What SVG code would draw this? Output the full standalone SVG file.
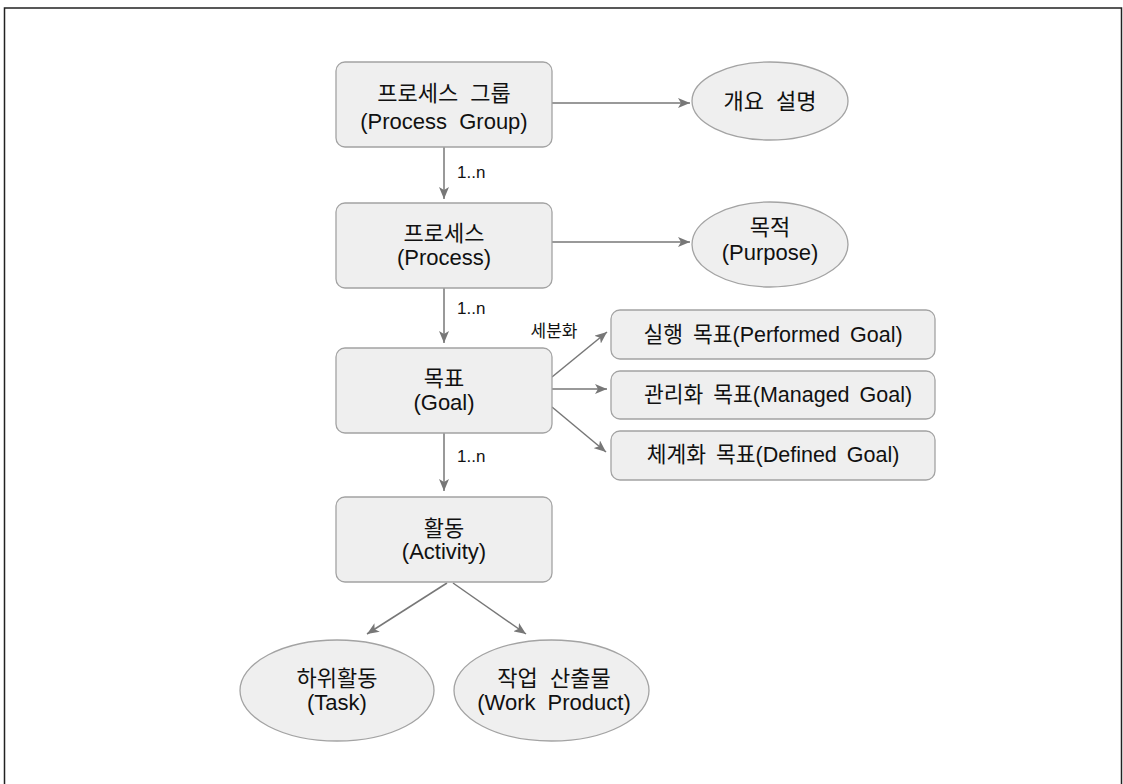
<svg xmlns="http://www.w3.org/2000/svg" width="1123" height="784" viewBox="0 0 1123 784">
<style>
.box{fill:#efefef;stroke:#a3a3a3;stroke-width:1.3}
.t{font-family:"Liberation Sans","Noto Sans CJK KR",sans-serif;font-size:22px;fill:#111;text-anchor:middle;word-spacing:6px}
.s{font-size:21.5px;word-spacing:4px}
.lbl{font-family:"Liberation Sans","Noto Sans CJK KR",sans-serif;font-size:17px;fill:#111}
.c{fill:none;stroke:#777;stroke-width:1.5}
</style>
<defs>
<marker id="arr" viewBox="0 0 12 10" refX="12" refY="5" markerWidth="12" markerHeight="10" markerUnits="userSpaceOnUse" orient="auto">
<path d="M0,0 L12,5 L0,10 L3,5 Z" fill="#777"/>
</marker>
</defs>
<rect x="4.5" y="8" width="1117" height="800" fill="none" stroke="#222" stroke-width="1.5"/>
<g id="connectors">
<line class="c" x1="552" y1="103" x2="690" y2="103" marker-end="url(#arr)"/>
<line class="c" x1="552" y1="242" x2="690" y2="242" marker-end="url(#arr)"/>
<line class="c" x1="444" y1="147" x2="444" y2="199" marker-end="url(#arr)"/>
<line class="c" x1="444" y1="288" x2="444" y2="343" marker-end="url(#arr)"/>
<line class="c" x1="444" y1="433" x2="444" y2="491" marker-end="url(#arr)"/>
<line class="c" x1="552" y1="377" x2="607" y2="332" marker-end="url(#arr)"/>
<line class="c" x1="552" y1="389" x2="607" y2="389" marker-end="url(#arr)"/>
<line class="c" x1="552" y1="407" x2="606" y2="452" marker-end="url(#arr)"/>
<line class="c" x1="447" y1="583" x2="367" y2="634" marker-end="url(#arr)"/>
<line class="c" x1="453" y1="583" x2="526" y2="634" marker-end="url(#arr)"/>
<text class="lbl" x="457" y="178">1..n</text>
<text class="lbl" x="457" y="314">1..n</text>
<text class="lbl" x="457" y="462">1..n</text>
<text class="lbl" x="554" y="337" text-anchor="middle">세분화</text>
</g>
<g id="processGroup">
<rect class="box" x="336" y="62" width="216" height="85" rx="9"/>
<text class="t" x="444" y="101">프로세스 그룹</text>
<text class="t" x="444" y="129">(Process Group)</text>
</g>
<g id="overview">
<ellipse class="box" cx="770" cy="101" rx="78" ry="39"/>
<text class="t" x="770" y="109">개요 설명</text>
</g>
<g id="process">
<rect class="box" x="336" y="203" width="216" height="85" rx="9"/>
<text class="t" x="444" y="241">프로세스</text>
<text class="t" x="444" y="265">(Process)</text>
</g>
<g id="purpose">
<ellipse class="box" cx="770" cy="244.5" rx="78" ry="42.5"/>
<text class="t" x="770" y="235">목적</text>
<text class="t" x="770" y="260">(Purpose)</text>
</g>
<g id="goal">
<rect class="box" x="336" y="348" width="216" height="85" rx="9"/>
<text class="t" x="444" y="386">목표</text>
<text class="t" x="444" y="410">(Goal)</text>
</g>
<g id="performedGoal">
<rect class="box" x="611" y="310" width="324" height="49" rx="9"/>
<text class="t s" x="773" y="342">실행 목표(Performed Goal)</text>
</g>
<g id="managedGoal">
<rect class="box" x="611" y="371" width="324" height="48" rx="9"/>
<text class="t s" x="778" y="402">관리화 목표(Managed Goal)</text>
</g>
<g id="definedGoal">
<rect class="box" x="611" y="431" width="324" height="49" rx="9"/>
<text class="t s" x="773" y="462">체계화 목표(Defined Goal)</text>
</g>
<g id="activity">
<rect class="box" x="336" y="497" width="216" height="85" rx="9"/>
<text class="t" x="444" y="536">활동</text>
<text class="t" x="444" y="559">(Activity)</text>
</g>
<g id="task">
<ellipse class="box" cx="337" cy="690.5" rx="97" ry="50.5"/>
<text class="t" x="337" y="686">하위활동</text>
<text class="t" x="337" y="710">(Task)</text>
</g>
<g id="workProduct">
<ellipse class="box" cx="551.5" cy="690.5" rx="97.5" ry="50.5"/>
<text class="t" x="554" y="686">작업 산출물</text>
<text class="t" x="554" y="710">(Work Product)</text>
</g>
</svg>
